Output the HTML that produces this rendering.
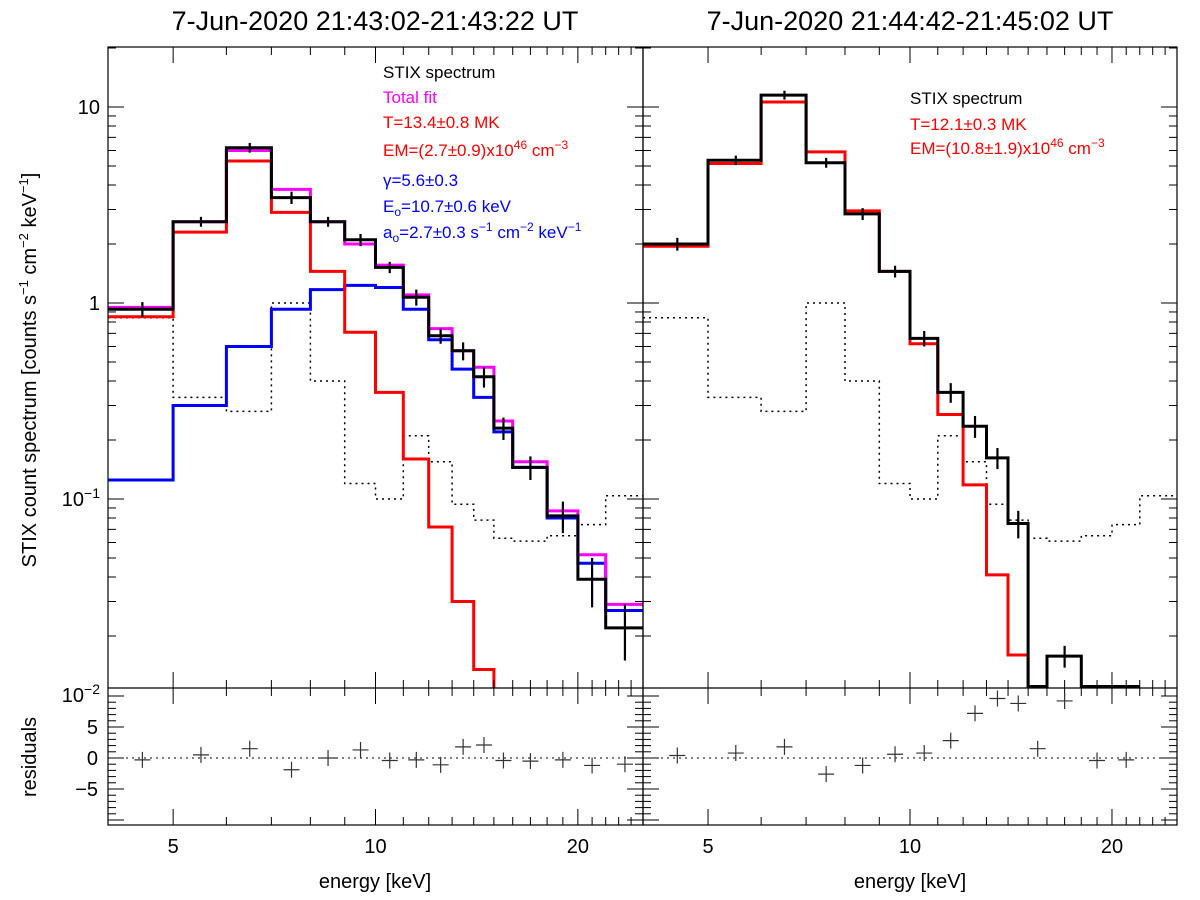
<!DOCTYPE html>
<html><head><meta charset="utf-8">
<style>
body{margin:0;background:#fff;}
svg{display:block;font-family:"Liberation Sans",sans-serif;}
</style></head>
<body>
<svg id="chart" width="1200" height="900" viewBox="0 0 1200 900" xmlns="http://www.w3.org/2000/svg">
<text x="375" y="30" font-size="27" text-anchor="middle">7-Jun-2020 21:43:02-21:43:22 UT</text>
<text x="910" y="30" font-size="27" text-anchor="middle">7-Jun-2020 21:44:42-21:45:02 UT</text>
<text transform="translate(36,370) rotate(-90)" font-size="20" text-anchor="middle">STIX count spectrum [counts s<tspan dy="-8" font-size="13">−1</tspan><tspan dy="8"> cm</tspan><tspan dy="-8" font-size="13">−2</tspan><tspan dy="8"> keV</tspan><tspan dy="-8" font-size="13">−1</tspan><tspan dy="8">]</tspan></text>
<text transform="translate(36,757) rotate(-90)" font-size="20" text-anchor="middle">residuals</text>
<text x="375" y="888" font-size="20" text-anchor="middle">energy [keV]</text>
<text x="910" y="888" font-size="20" text-anchor="middle">energy [keV]</text>
<g font-size="17">
<text x="383" y="78" fill="#000">STIX spectrum</text>
<text x="383" y="103" fill="#f0f">Total fit</text>
<text x="383" y="128" fill="#f00">T=13.4±0.8 MK</text>
<text x="383" y="156" fill="#f00">EM=(2.7±0.9)x10<tspan dy="-7" font-size="12">46</tspan><tspan dy="7"> cm</tspan><tspan dy="-7" font-size="12">−3</tspan></text>
<text x="383" y="186" fill="#00f">γ=5.6±0.3</text>
<text x="383" y="212" fill="#00f">E<tspan dy="4" font-size="12">o</tspan><tspan dy="-4">=10.7±0.6 keV</tspan></text>
<text x="383" y="238" fill="#00f">a<tspan dy="4" font-size="12">o</tspan><tspan dy="-4">=2.7±0.3 s</tspan><tspan dy="-7" font-size="12">−1</tspan><tspan dy="7"> cm</tspan><tspan dy="-7" font-size="12">−2</tspan><tspan dy="7"> keV</tspan><tspan dy="-7" font-size="12">−1</tspan></text>
</g>
<g font-size="17">
<text x="910" y="104" fill="#000">STIX spectrum</text>
<text x="910" y="130" fill="#f00">T=12.1±0.3 MK</text>
<text x="910" y="154" fill="#f00">EM=(10.8±1.9)x10<tspan dy="-7" font-size="12">46</tspan><tspan dy="7"> cm</tspan><tspan dy="-7" font-size="12">−3</tspan></text>
</g>
</svg>
<script>
const edges=[4,5,6,7,8,9,10,11,12,13,14,15,16,18,20,22,25];
const bgL=[0.84,0.33,0.28,1.0,0.4,0.12,0.10,0.21,0.155,0.094,0.078,0.063,0.061,0.065,0.074,0.104];
const dataL=[0.93,2.6,6.2,3.45,2.6,2.1,1.52,1.07,0.68,0.57,0.42,0.23,0.145,0.082,0.039,0.022];
const errL=[0.08,0.15,0.35,0.25,0.15,0.15,0.1,0.1,0.06,0.06,0.05,0.03,0.02,0.015,0.011,0.007];
const fitL=[0.95,2.6,6.0,3.8,2.6,2.0,1.56,1.1,0.74,0.57,0.47,0.25,0.155,0.087,0.052,0.029];
const thL=[0.85,2.3,5.3,2.9,1.45,0.71,0.35,0.16,0.072,0.03,0.0135,0.005,0.003,0.001,0.0005,0.0003];
const nthL=[0.125,0.3,0.6,0.93,1.17,1.23,1.2,0.93,0.65,0.46,0.33,0.22,0.145,0.08,0.047,0.027];
const resL=[-0.3,0.5,1.5,-1.9,0,1.3,-0.4,-0.3,-1.1,1.8,2.1,-0.4,-0.5,-0.3,-1.2,-1.0];
const dataR=[2.0,5.35,11.5,5.2,2.85,1.45,0.66,0.35,0.235,0.162,0.075,0.004,0.0158,0.004,0.004];
const errR=[0.15,0.3,0.6,0.3,0.2,0.1,0.06,0.04,0.03,0.02,0.012,0,0.002,0,0];
const thR=[1.95,5.15,10.6,5.9,2.95,1.45,0.62,0.27,0.118,0.041,0.016,0.004,0.002,0.001,0.001,0.001];
const resR=[0.4,0.8,1.8,-2.6,-1.2,0.6,0.8,2.8,7.2,9.6,8.8,1.5,9.2,-0.4,-0.3];
const yTickVals=[10,1,0.1,0.01];
const resTicks=[5,0,-5];
const xTickVals=[5,10,20];

const svg=document.getElementById('chart');
const NS='http://www.w3.org/2000/svg';
const TOP=47,MID=688,BOT=825;
const yLog=v=>303-196*Math.log10(v);
const yRes=v=>758-6.2*v;
function mk(tag,attrs,parent){const e=document.createElementNS(NS,tag);for(const k in attrs)e.setAttribute(k,attrs[k]);(parent||svg).appendChild(e);return e;}

function panel(x0,x1,side){
  const xs=e=>x0+ (x1-x0)*Math.log(e/4)/Math.log(25/4);
  const g=mk('g',{});
  
  
  const cp=mk('clipPath',{id:'cp'+side},g);
  mk('rect',{x:x0,y:TOP,width:x1-x0,height:MID-TOP},cp);
  const plot=mk('g',{'clip-path':'url(#cp'+side+')'},g);
  function step(vals,color,w,dash,name,floor){
    let d='';
    for(let i=0;i<vals.length;i++){
      const y=Math.min(yLog(Math.max(vals[i],1e-4)),floor?MID-1.5:MID+2);
      const a=xs(edges[i]),b=xs(edges[i+1]);
      d+=(i===0?'M':'L')+a.toFixed(1)+','+y.toFixed(1)+'L'+b.toFixed(1)+','+y.toFixed(1);
    }
    const p=mk('path',{d:d,fill:'none',stroke:color,'stroke-width':w},plot);
    if(dash)p.setAttribute('stroke-dasharray',dash);
    
    
  }
  return {xs,step,plot,g};
}
function frame(P,x0,x1,side,labels){
  const g=P.g;
  mk('rect',{x:x0,y:TOP,width:x1-x0,height:BOT-TOP,fill:'none',stroke:'#000','stroke-width':1.2},g);
  mk('line',{x1:x0,x2:x1,y1:MID,y2:MID,stroke:'#000','stroke-width':1.2},g);
  for(let dec=-2;dec<=1;dec++){
    for(let m=1;m<10;m++){
      const v=m*Math.pow(10,dec);const y=yLog(v);
      if(y<TOP||y>MID)continue;
      const L=m===1?16:8;
      mk('line',{x1:x0,x2:x0+L,y1:y,y2:y,stroke:'#000'},g);
      mk('line',{x1:x1,x2:x1-L,y1:y,y2:y,stroke:'#000'},g);
    }
  }
  if(labels){
    yTickVals.forEach(v=>{
      const y=yLog(v);
      const t=mk('text',{x:x0-8,y:y+7,'font-size':20,'text-anchor':'end'},svg);
      
      
      const p=Math.round(Math.log10(v));
      if(p===1)t.textContent='10';else if(p===0)t.textContent='1';
      else{t.textContent='10';const s=mk('tspan',{dy:-8,'font-size':14},t);s.textContent='−'+(-p);}
    });
    resTicks.forEach(v=>{
      const t=mk('text',{x:x0-10,y:yRes(v)+7,'font-size':20,'text-anchor':'end'},svg);
      
      
      t.textContent=v<0?'−'+(-v):String(v);
    });
  }
  for(let v=-10;v<=10;v++){
    const y=yRes(v);if(y<MID||y>BOT)continue;
    const L=v%5===0?16:8;
    mk('line',{x1:x0,x2:x0+L,y1:y,y2:y,stroke:'#000'},g);
    mk('line',{x1:x1,x2:x1-L,y1:y,y2:y,stroke:'#000'},g);
  }
  for(let e=4;e<=25;e++){
    const x=P.xs(e);
    const major=xTickVals.includes(e);const L=major?16:8;
    mk('line',{x1:x,x2:x,y1:BOT,y2:BOT-L,stroke:'#000'},g);
    mk('line',{x1:x,x2:x,y1:MID,y2:MID-L,stroke:'#000'},g);
    mk('line',{x1:x,x2:x,y1:TOP,y2:TOP+L,stroke:'#000'},g);
    mk('line',{x1:x,x2:x,y1:MID,y2:MID+L,stroke:'#000'},g);
  }
  xTickVals.forEach(v=>{
    const t=mk('text',{x:P.xs(v),y:853,'font-size':20,'text-anchor':'middle'},svg);
    
    
    t.textContent=String(v);
  });
  mk('line',{x1:x0,x2:x1,y1:yRes(0),y2:yRes(0),stroke:'#000','stroke-dasharray':'2,4'},g);
}
function points(P,vals,errs,name){
  for(let i=0;i<vals.length;i++){
    if(vals[i]<0.011)continue;
    const xc=P.xs((edges[i]+edges[i+1])/2),y=yLog(vals[i]);
    const p=mk('path',{d:`M${xc-7},${y}L${xc+7},${y}M${xc},${yLog(vals[i]+errs[i])}L${xc},${yLog(Math.max(vals[i]-errs[i],1e-3))}`,stroke:'#000','stroke-width':2.2,fill:'none'},P.plot);
    
    
  }
}
function resid(P,vals,name){
  for(let i=0;i<vals.length;i++){
    const xc=P.xs((edges[i]+edges[i+1])/2),y=yRes(vals[i]);
    const p=mk('path',{d:`M${xc-8},${y}L${xc+8},${y}M${xc},${y-8}L${xc},${y+8}`,stroke:'#333','stroke-width':1.2,fill:'none'},P.g);
    
    
  }
}
const L=panel(108,643,'left');
L.step(bgL,'#000',1.5,'2,4','background-left');
L.step(nthL,'#00f',3,null,'nonthermal-fit-left');
L.step(thL,'#f00',3,null,'thermal-fit-left');
L.step(fitL,'#f0f',3,null,'total-fit-left');
L.step(dataL,'#000',3,null,'stix-spectrum-left');
points(L,dataL,errL,'data-point-left');
frame(L,108,643,'left',true);
resid(L,resL,'residual-left');

const R=panel(643,1177,'right');
R.step(bgL,'#000',1.5,'2,4','background-right');
R.step(thR,'#f00',3,null,'thermal-fit-right');
R.step(dataR,'#000',3,null,'stix-spectrum-right',true);
points(R,dataR,errR,'data-point-right');
frame(R,643,1177,'right',false);
resid(R,resR,'residual-right');
</script>
</body></html>
